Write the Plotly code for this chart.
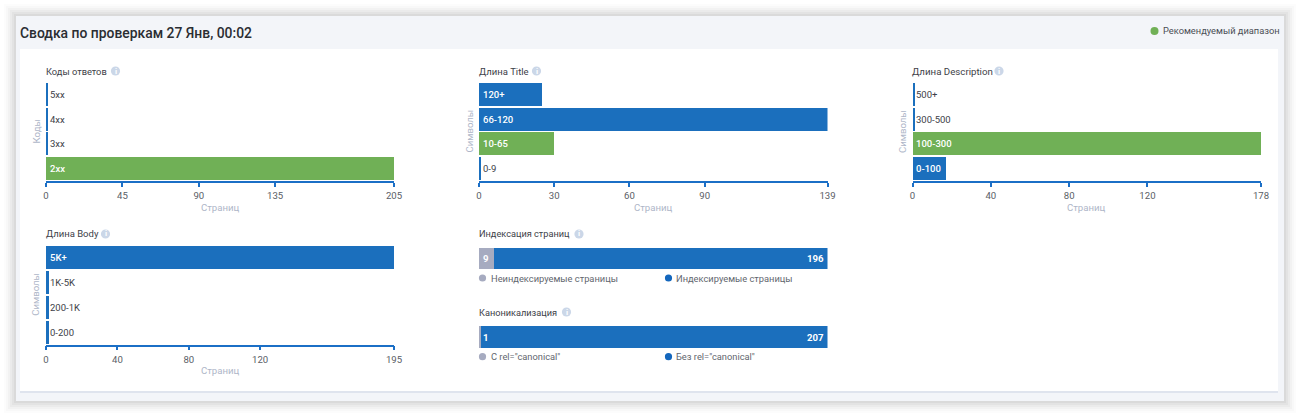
import plotly.graph_objects as go

W, H = 1300, 417
BLUE, GREEN, GRAY = "#1b6fbd", "#70b056", "#a6abc0"
FONT = "Roboto"

# ---- data ----
codes_cats = ["2xx", "3xx", "4xx", "5xx"]
codes_vals = [205, 1.4, 1.4, 1.4]
codes_ticks = [0, 45, 90, 135, 205]

title_cats = ["0-9", "10-65", "66-120", "120+"]
title_vals = [0.9, 30, 139, 25]
title_ticks = [0, 30, 60, 90, 139]

desc_cats = ["0-100", "100-300", "300-500", "500+"]
desc_vals = [17, 178, 1.2, 1.2]
desc_ticks = [0, 40, 80, 120, 178]

body_cats = ["0-200", "200-1K", "1K-5K", "5K+"]
body_vals = [1.4, 1.4, 1.4, 195]
body_ticks = [0, 40, 80, 120, 195]

index_vals = [9, 196]
index_names = ["Неиндексируемые страницы", "Индексируемые страницы"]
canon_vals = [1, 207]
canon_names = ['С rel="canonical"', 'Без rel="canonical"']


def px(x):
    return x / W


def py(y):
    return 1 - y / H


fig = go.Figure()
shapes, notes = [], []


def rect(x0, y0, x1, y1, color, opacity=1):
    shapes.append(dict(type="rect", xref="paper", yref="paper", x0=px(x0), x1=px(x1),
                       y0=py(y1), y1=py(y0), fillcolor=color, opacity=opacity,
                       line_width=0, layer="below"))


def dot(cx, cy, r, color):
    shapes.append(dict(type="circle", xref="paper", yref="paper", x0=px(cx - r), x1=px(cx + r),
                       y0=py(cy + r), y1=py(cy - r), fillcolor=color, line_width=0, layer="below"))


def label(x, y, text, size=9.3, color="#3d4148", anchor="left", weight=None, angle=0):
    notes.append(dict(xref="paper", yref="paper", x=px(x), y=py(y), text=text, showarrow=False,
                      xanchor=anchor, yanchor="middle", textangle=angle,
                      font=dict(family=FONT, size=size, color=color, weight=weight),
                      borderpad=0, borderwidth=0))


def info(cx, cy):
    dot(cx, cy, 4.6, "#cbd7e8")
    label(cx, cy, "i", size=8, color="#ffffff", anchor="center", weight=700)


# frame with soft shadow
for grow, col in [(12, "#fcfcfc"), (10, "#f8f8f8"), (8, "#f2f2f2"), (6, "#ebebeb"), (4, "#e3e3e3"), (2, "#dadada")]:
    rect(16 - grow, 16 - grow, 1284 + grow, 401 + grow, col)
rect(16, 16, 1284, 401, "#f3f5f9")
rect(20, 49, 1278, 393, "#dfe4ee")
rect(20, 49, 1278, 391, "#ffffff")

label(20, 33, "Сводка по проверкам 27 Янв, 00:02", size=13.9, color="#2a2d32", weight=500)
dot(1154.5, 31, 4, GREEN)
label(1163, 31, "Рекомендуемый диапазон", size=9.3, color="#4a4e55")

layout_axes = {}


def hbar(n, cats, vals, ticks, x0, x1, top, bottom, green, ytitle, ttl, ttl_y, icon_x, ttl_size):
    xname, yname = ("x", "y") if n == 1 else (f"x{n}", f"y{n}")
    colors = [GREEN if c == green else BLUE for c in cats]
    fig.add_trace(go.Bar(y=cats, x=vals, orientation="h", marker=dict(color=colors, line_width=0),
                         xaxis=xname, yaxis=yname, showlegend=False, hoverinfo="skip"))
    layout_axes["xaxis" if n == 1 else f"xaxis{n}"] = dict(
        domain=[px(x0), px(x1)], range=[0, ticks[-1]], anchor=yname, tickmode="array",
        tickvals=ticks, ticktext=[str(t) for t in ticks], ticks="outside", ticklen=4, tickwidth=1.5,
        tickcolor="#1b6fc6", showline=True, linecolor="#1b6fc6", linewidth=1.5, showgrid=False,
        zeroline=False, tickfont=dict(family=FONT, size=9.6, color="#5a5e66"), ticklabelstandoff=1,
        fixedrange=True)
    layout_axes["yaxis" if n == 1 else f"yaxis{n}"] = dict(
        domain=[py(bottom), py(top)], range=[-0.5, 3.5], anchor=xname, type="category",
        categoryorder="array", categoryarray=cats, showticklabels=False, ticks="", showline=False,
        showgrid=False, zeroline=False, fixedrange=True)
    for cat, val in zip(cats, vals):
        wide = val > ticks[-1] * 0.05
        notes.append(dict(xref=xname, yref=yname, x=0, y=cat, text=cat, showarrow=False,
                          xanchor="left", xshift=2, yanchor="middle",
                          font=dict(family=FONT, size=9.5, color="#ffffff" if wide else "#3d4148",
                                    weight=500 if wide else None)))
    label(x0 - 10, (top + bottom) / 2, ytitle, size=9.6, color="#aeb6c8", anchor="center", angle=-90)
    label((x0 + x1) / 2, bottom + 26, "Страниц", size=9.6, color="#aeb6c8", anchor="center")
    label(x0 - 0.5, ttl_y, ttl, size=ttl_size, color="#3d4148")
    info(icon_x, ttl_y)


hbar(1, codes_cats, codes_vals, codes_ticks, 46, 394, 82, 181, "2xx", "Коды", "Коды ответов", 71, 115.5, 9.3)
hbar(2, title_cats, title_vals, title_ticks, 479, 827.5, 82, 181, "10-65", "Символы", "Длина Title", 71, 536.5, 9.5)
hbar(3, desc_cats, desc_vals, desc_ticks, 912.5, 1261, 82, 181, "100-300", "Символы", "Длина Description", 71, 999, 9.7)
hbar(4, body_cats, body_vals, body_ticks, 46, 394, 245, 344.5, None, "Символы", "Длина Body", 234, 105.5, 9.5)


def stacked(n, vals, names, top, bottom, ttl, ttl_y, icon_x, leg_y):
    xname, yname = f"x{n}", f"y{n}"
    for val, name, col in zip(vals, names, [GRAY, BLUE]):
        fig.add_trace(go.Bar(y=[ttl], x=[val], orientation="h", name=name, marker=dict(color=col, line_width=0),
                             xaxis=xname, yaxis=yname, showlegend=False, hoverinfo="skip"))
    total = sum(vals)
    layout_axes[f"xaxis{n}"] = dict(domain=[px(479), px(827.5)], range=[0, total], anchor=yname,
                                    visible=False, fixedrange=True)
    layout_axes[f"yaxis{n}"] = dict(domain=[py(bottom), py(top)], anchor=xname, type="category",
                                    range=[-0.5, 0.5], visible=False, fixedrange=True)
    notes.append(dict(xref=xname, yref=yname, x=0, y=ttl, text=str(vals[0]), showarrow=False, xanchor="left",
                      xshift=1.5, font=dict(family=FONT, size=9.6, color="#ffffff", weight=700)))
    notes.append(dict(xref=xname, yref=yname, x=total, y=ttl, text=str(vals[1]), showarrow=False, xanchor="right",
                      xshift=-1.5, font=dict(family=FONT, size=9.6, color="#ffffff", weight=700)))
    label(478.5, ttl_y, ttl, size=9.2, color="#3d4148")
    info(icon_x, ttl_y)
    for name, col, dx in zip(names, [GRAY, "#1467bd"], [482.5, 668.5]):
        dot(dx, leg_y, 3.6, col)
        label(dx + 8, leg_y, name, size=9.3, color="#62666e")


stacked(5, index_vals, index_names, 247, 270, "Индексация страниц", 234, 579, 278)
stacked(6, canon_vals, canon_names, 325.5, 348.5, "Каноникализация", 312, 566.5, 356.7)

fig.update_layout(width=W, height=H, margin=dict(l=0, r=0, t=0, b=0, autoexpand=False), paper_bgcolor="#ffffff",
                  plot_bgcolor="rgba(0,0,0,0)", barmode="stack", bargap=0.07, shapes=shapes,
                  annotations=notes, font=dict(family=FONT), **layout_axes)
fig.write_html("out.html", config={"displayModeBar": False},
               post_script="document.body.style.margin='0';")
